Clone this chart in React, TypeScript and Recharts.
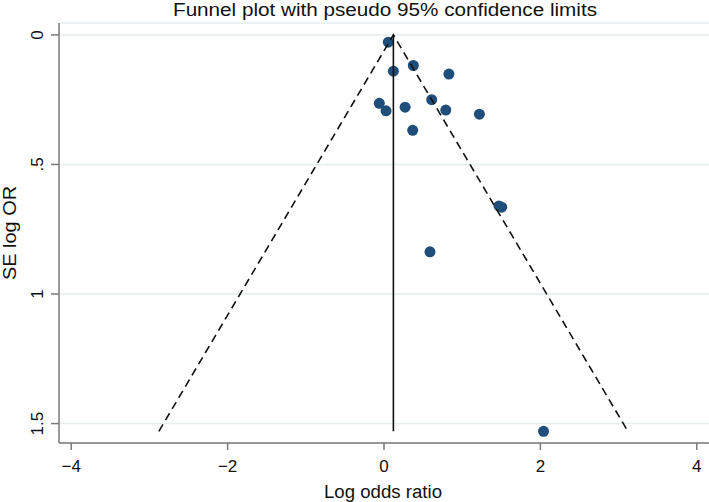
import { ScatterChart, Scatter, XAxis, YAxis, CartesianGrid, Label } from "recharts";

// study estimates
const logOddsRatio = [0.055, 0.375, 0.12, 0.83, -0.06, 0.026, 0.27, 0.61, 0.79, 1.22, 0.367, 1.47, 1.505, 0.588, 2.04];
const seLogOR = [0.028, 0.118, 0.14, 0.151, 0.264, 0.293, 0.279, 0.25, 0.29, 0.306, 0.368, 0.66, 0.665, 0.837, 1.53];
const pooledLogOR = 0.12;
const z95 = 1.96;

const xTicks = [-4, -2, 0, 2, 4];
const yTicks = [0, 0.5, 1, 1.5];

const FONT = '"Liberation Sans", Arial, sans-serif';
const AXIS = "#7a7a7a";
const DOT = "#1f4e7a";

const studies = logOddsRatio.map((x, i) => ({ x, y: seLogOR[i] }));
const maxSE = Math.max(...seLogOR);
const funnel = [
  { x: pooledLogOR - z95 * maxSE, y: maxSE },
  { x: pooledLogOR, y: 0 },
  { x: pooledLogOR + z95 * maxSE, y: maxSE },
];
const pooledLine = [
  { x: pooledLogOR, y: 0 },
  { x: pooledLogOR, y: maxSE },
];

const fmtX = (v: number) => (v < 0 ? `\u2212${Math.abs(v)}` : String(v));
const fmtY = (v: number) => String(v).replace(/^0\./, ".");

function XTick({ x, payload }: any) {
  return (
    <text x={x} y={471.5} textAnchor="middle" fontSize={17} fontFamily={FONT} fill="#111">
      {fmtX(payload.value)}
    </text>
  );
}

function YTick({ y, payload }: any) {
  return (
    <text
      transform={`translate(42.5, ${y}) rotate(-90)`}
      textAnchor="middle"
      fontSize={17}
      fontFamily={FONT}
      fill="#111"
    >
      {fmtY(payload.value)}
    </text>
  );
}

const Dot = (p: any) => <circle cx={p.cx} cy={p.cy} r={5.5} fill={DOT} />;
const NoDot = () => <g />;

export default function App() {
  return (
    <div style={{ position: "absolute", left: 0, top: 0, width: 709, height: 502, background: "#fff" }}>
      <svg width={709} height={30} style={{ position: "absolute", left: 0, top: 0 }}>
        <text
          x={385}
          y={15.5}
          textAnchor="middle"
          fontSize={18}
          fontFamily={FONT}
          fill="#111"
          textLength={424}
          lengthAdjust="spacingAndGlyphs"
        >
          Funnel plot with pseudo 95% confidence limits
        </text>
      </svg>
      <ScatterChart width={709} height={502} margin={{ top: 23, right: 0, bottom: 0, left: 0 }}>
        <CartesianGrid vertical={false} stroke="#e6eef0" strokeWidth={1.5} />
        <XAxis
          type="number"
          dataKey="x"
          domain={[-4.156, 4.156]}
          ticks={xTicks}
          allowDataOverflow
          height={59}
          tickSize={7}
          axisLine={{ stroke: AXIS, strokeWidth: 1.5 }}
          tickLine={{ stroke: AXIS, strokeWidth: 1.5 }}
          tick={<XTick />}
        >
          <Label
            content={() => (
              <text
                x={383}
                y={498}
                textAnchor="middle"
                fontSize={18}
                fontFamily={FONT}
                fill="#111"
                textLength={118}
                lengthAdjust="spacingAndGlyphs"
              >
                Log odds ratio
              </text>
            )}
          />
        </XAxis>
        <YAxis
          type="number"
          dataKey="y"
          reversed
          domain={[-0.046, 1.575]}
          ticks={yTicks}
          allowDataOverflow
          width={59}
          tickSize={8}
          axisLine={{ stroke: AXIS, strokeWidth: 1.5 }}
          tickLine={{ stroke: AXIS, strokeWidth: 1.5 }}
          tick={<YTick />}
        >
          <Label
            content={() => (
              <text
                transform="translate(16, 233) rotate(-90)"
                textAnchor="middle"
                fontSize={18}
                fontFamily={FONT}
                fill="#111"
                textLength={94}
                lengthAdjust="spacingAndGlyphs"
              >
                SE log OR
              </text>
            )}
          />
        </YAxis>
        <Scatter data={studies} shape={Dot} isAnimationActive={false} />
        <Scatter
          data={funnel}
          shape={NoDot}
          line={{ stroke: "#111", strokeWidth: 1.6, strokeDasharray: "8 5" }}
          lineType="joint"
          isAnimationActive={false}
        />
        <Scatter
          data={pooledLine}
          shape={NoDot}
          line={{ stroke: "#111", strokeWidth: 1.6 }}
          lineType="joint"
          isAnimationActive={false}
        />
      </ScatterChart>
    </div>
  );
}
